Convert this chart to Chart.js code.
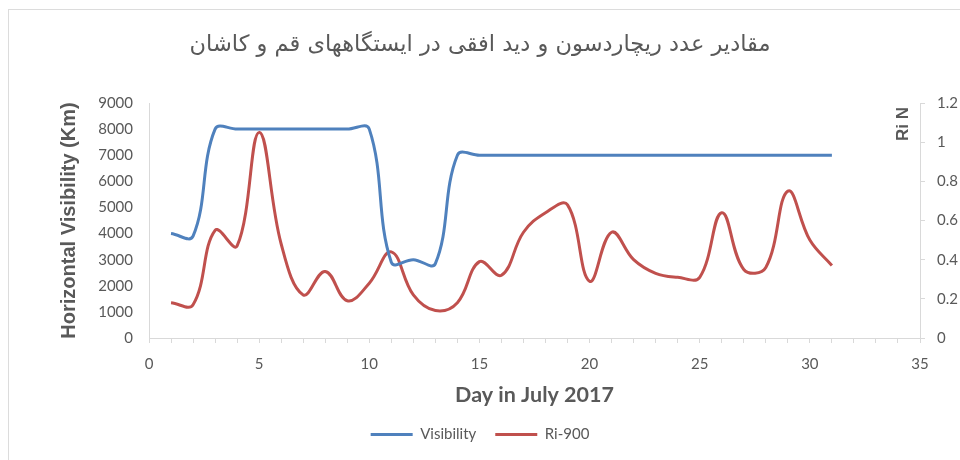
<!DOCTYPE html>
<html>
<head>
<meta charset="utf-8">
<script src="https://cdn.jsdelivr.net/npm/chart.js@4.4.1/dist/chart.umd.min.js"></script>
<style>
  html, body { margin: 0; padding: 0; background: #ffffff; }
  #wrap { width: 960px; height: 460px; position: relative; }
</style>
</head>
<body>
<div id="wrap"><canvas id="chart" width="960" height="460"></canvas></div>
<script>
// Days of July 2017
const days = [1, 2, 3, 4, 5, 6, 7, 8, 9, 10, 11, 12, 13, 14, 15, 16, 17, 18, 19, 20,
              21, 22, 23, 24, 25, 26, 27, 28, 29, 30, 31];

// Horizontal visibility (Km), left axis
const visibility = [4000, 3900, 8000, 8000, 8000, 8000, 8000, 8000, 8000, 8000,
                    2900, 3000, 2850, 7000, 7000, 7000, 7000, 7000, 7000, 7000,
                    7000, 7000, 7000, 7000, 7000, 7000, 7000, 7000, 7000, 7000, 7000];

// Richardson number at 900 hPa, right axis
const ri900 = [0.18, 0.17, 0.55, 0.47, 1.05, 0.48, 0.22, 0.34, 0.19, 0.28,
               0.44, 0.22, 0.14, 0.18, 0.39, 0.32, 0.54, 0.64, 0.68, 0.29,
               0.54, 0.40, 0.33, 0.31, 0.31, 0.64, 0.35, 0.36, 0.75, 0.50, 0.37];

// Tick labels
const dayTicks = ['0', '5', '10', '15', '20', '25', '30', '35'];
const visTicks = ['0', '1000', '2000', '3000', '4000', '5000', '6000', '7000', '8000', '9000'];
const riTicks = ['0', '0.2', '0.4', '0.6', '0.8', '1', '1.2'];

const TEXT = '#595959';
const AXIS = '#d9d9d9';
const BLUE = '#4f81bd';
const RED = '#c0504d';

// Outer frame of the chart
const framePlugin = {
  id: 'frame',
  beforeDraw(chart) {
    const ctx = chart.ctx;
    ctx.save();
    ctx.strokeStyle = '#dcdcdc';
    ctx.lineWidth = 1;
    ctx.strokeRect(8.5, 9.5, 980, 480);
    ctx.restore();
  }
};

// Right-axis title, read bottom to top, placed at the top of the axis
const rightTitlePlugin = {
  id: 'rightTitle',
  afterDraw(chart) {
    const ctx = chart.ctx;
    const area = chart.chartArea;
    ctx.save();
    ctx.translate(area.right - 17, area.top + 21);
    ctx.rotate(-Math.PI / 2);
    ctx.font = 'bold 17px "Liberation Sans", Arial, sans-serif';
    ctx.fillStyle = TEXT;
    ctx.textAlign = 'center';
    ctx.textBaseline = 'middle';
    ctx.fillText('Ri N', 0, 0);
    ctx.restore();
  }
};

const labelFont = { family: 'Lato, "Liberation Sans", sans-serif', size: 15 };

new Chart(document.getElementById('chart'), {
  type: 'line',
  data: {
    datasets: [
      {
        label: 'Visibility',
        data: days.map((d, i) => ({ x: d, y: visibility[i] })),
        borderColor: BLUE,
        backgroundColor: BLUE,
        borderWidth: 3,
        pointRadius: 0,
        tension: 0.4,
        yAxisID: 'yVis'
      },
      {
        label: 'Ri-900',
        data: days.map((d, i) => ({ x: d, y: ri900[i] })),
        borderColor: RED,
        backgroundColor: RED,
        borderWidth: 3,
        pointRadius: 0,
        tension: 0.4,
        yAxisID: 'yRi'
      }
    ]
  },
  options: {
    responsive: false,
    animation: false,
    layout: { padding: { left: 0, right: 0, top: 0, bottom: 8 } },
    plugins: {
      title: {
        display: true,
        text: 'مقادیر عدد ریچاردسون و دید افقی در ایستگاههای قم و کاشان',
        color: TEXT,
        font: { family: '"DejaVu Sans", sans-serif', size: 22.5, weight: 'normal', lineHeight: 1.2 },
        padding: { top: 31.5, bottom: 44.5 }
      },
      legend: {
        position: 'bottom',
        labels: {
          color: TEXT,
          font: labelFont,
          usePointStyle: true,
          pointStyle: 'line',
          pointStyleWidth: 42,
          padding: 19
        }
      },
      tooltip: { enabled: false }
    },
    scales: {
      x: {
        type: 'linear',
        min: 0,
        max: 35,
        afterFit(scale) { scale.height = 70; },
        ticks: {
          stepSize: 1,
          autoSkip: false,
          maxRotation: 0,
          color: TEXT,
          font: labelFont,
          padding: 12,
          callback: (v) => (dayTicks.includes(String(v)) ? String(v) : '')
        },
        grid: { drawOnChartArea: false, color: AXIS, tickLength: 5, tickColor: AXIS },
        border: { display: true, color: AXIS, width: 1 },
        title: {
          display: true,
          text: 'Day in July 2017',
          color: TEXT,
          font: { family: 'Lato, "Liberation Sans", sans-serif', size: 21.5, weight: 'bold', lineHeight: 1.2 },
          padding: { top: 0, bottom: 0 }
        }
      },
      yVis: {
        type: 'linear',
        position: 'left',
        min: 0,
        max: 9000,
        afterFit(scale) { scale.width = 149; },
        ticks: {
          stepSize: 1000,
          color: TEXT,
          font: labelFont,
          padding: 16,
          callback: (v, i) => visTicks[i]
        },
        grid: { display: false, drawTicks: false },
        border: { display: true, color: AXIS, width: 1 },
        title: {
          display: true,
          text: 'Horizontal Visibility (Km)',
          color: TEXT,
          font: { family: '"Liberation Sans", Arial, sans-serif', size: 20, weight: 'bold', lineHeight: 1.2 },
          padding: { top: 57, bottom: 0 }
        }
      },
      yRi: {
        type: 'linear',
        position: 'right',
        min: 0,
        max: 1.2,
        afterFit(scale) { scale.width = 40; },
        ticks: {
          stepSize: 0.2,
          color: TEXT,
          font: labelFont,
          padding: 12,
          callback: (v, i) => riTicks[i]
        },
        grid: { drawOnChartArea: false, color: AXIS, tickLength: 5, tickColor: AXIS },
        border: { display: true, color: AXIS, width: 1 }
      }
    }
  },
  plugins: [framePlugin, rightTitlePlugin]
});
</script>
</body>
</html>
